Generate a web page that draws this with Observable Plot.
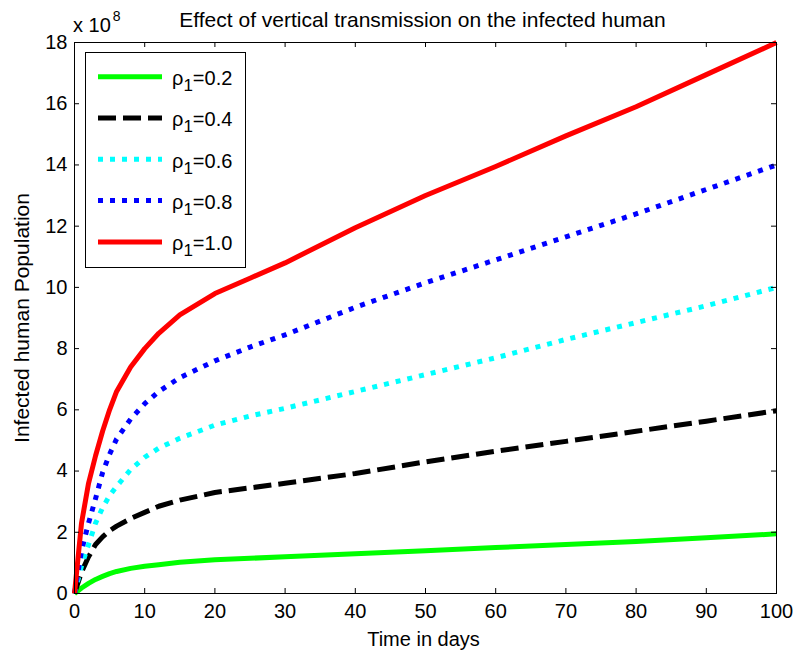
<!DOCTYPE html>
<html><head><meta charset="utf-8">
<script src="https://cdn.jsdelivr.net/npm/d3@7"></script>
<script src="https://cdn.jsdelivr.net/npm/@observablehq/plot@0.6"></script>
<style>
body{margin:0;background:#fff}
#chart{position:relative;width:794px;height:653px}
</style>
</head><body><div id="chart"></div>
<script>
// Time in days
const days = [0,1,2,3,4,5,6,8,10,12,15,20,25,30,40,50,60,70,80,90,100];
// Infected human population (x 10^8)
const rho02 = [0,0.18,0.33,0.46,0.56,0.65,0.72,0.82,0.89,0.94,1.02,1.10,1.15,1.20,1.30,1.40,1.50,1.60,1.70,1.82,1.95];
const rho04 = [0,0.70,1.20,1.60,1.85,2.05,2.20,2.45,2.65,2.85,3.05,3.30,3.45,3.60,3.92,4.30,4.65,4.97,5.30,5.63,5.97];
const rho06 = [0,0.90,1.60,2.30,2.80,3.20,3.50,4.05,4.45,4.75,5.07,5.50,5.80,6.05,6.60,7.15,7.70,8.30,8.85,9.40,10.0];
const rho08 = [0,1.40,2.30,3.10,3.95,4.55,5.05,5.70,6.20,6.60,7.05,7.60,8.05,8.45,9.35,10.15,10.90,11.65,12.40,13.20,14.0];
const rho10 = [0,2.30,3.60,4.50,5.30,6.00,6.60,7.40,8.00,8.50,9.10,9.80,10.30,10.80,11.95,13.00,13.95,14.95,15.90,16.95,18.0];

const rhoValues = ["0.2","0.4","0.6","0.8","1.0"];
const seriesData = [rho02, rho04, rho06, rho08, rho10];
const colors = ["#00ff00","#000000","#00ffff","#0000ff","#ff0000"];
const dashes = [null,"18,7","5,7","5,7",null];

const xTicks = [0,10,20,30,40,50,60,70,80,90,100];
const yTicks = [0,2,4,6,8,10,12,14,16,18];

const titleText = "Effect of vertical transmission on the infected human";
const xLabel = "Time in days";
const yLabel = "Infected human Population";

const W = 794, H = 653, mL = 74, mR = 18, mT = 42, mB = 60;
const fw = W - mL - mR, fh = H - mT - mB, tk = 5;
const font = "'Liberation Sans', Arial, Helvetica, sans-serif";

const lineMarks = seriesData.map((vals, i) =>
  Plot.line(days.map((d, j) => ({t: d, v: vals[j]})), {
    x: "t", y: "v", stroke: colors[i], strokeWidth: 5,
    strokeDasharray: dashes[i] || undefined,
    strokeLinecap: "butt", strokeLinejoin: "round"
  })
);

const plot = Plot.plot({
  width: W, height: H,
  marginLeft: mL, marginRight: mR, marginTop: mT, marginBottom: mB,
  style: {fontFamily: font, fontSize: "20px", background: "white", color: "black"},
  x: {domain: [0, 100], ticks: xTicks, tickSize: 0, tickPadding: 10, label: null},
  y: {domain: [0, 18], ticks: yTicks, tickSize: 0, tickPadding: 7, label: null},
  marks: [
    ...lineMarks,
    Plot.frame({stroke: "black", strokeWidth: 1}),
    Plot.ruleX(xTicks, {x: d => d, insetTop: fh - tk, stroke: "black"}),
    Plot.ruleX(xTicks, {x: d => d, insetBottom: fh - tk, stroke: "black"}),
    Plot.ruleY(yTicks, {y: d => d, insetRight: fw - tk, stroke: "black"}),
    Plot.ruleY(yTicks, {y: d => d, insetLeft: fw - tk, stroke: "black"}),
    Plot.text([titleText], {frameAnchor: "top", dy: -22, dx: -3, fontSize: 21, textAnchor: "middle", lineAnchor: "middle", fill: "black"}),
    Plot.text([xLabel], {frameAnchor: "bottom", dy: 46, dx: -2, fontSize: 20, textAnchor: "middle", lineAnchor: "middle", fill: "black"}),
    Plot.text([yLabel], {frameAnchor: "left", dx: -52, dy: 0, rotate: -90, fontSize: 21, textAnchor: "middle", lineAnchor: "middle", fill: "black"})
  ]
});

document.getElementById("chart").appendChild(plot);

const svg = d3.select(plot);
// exponent label
const ex = svg.append("text").attr("x", 73).attr("y", 32).attr("text-anchor", "start")
  .attr("font-family", font).attr("font-size", 20).attr("fill", "black");
ex.append("tspan").text("x 10");
ex.append("tspan").attr("font-size", 14).attr("dy", -11).attr("dx", 2).text("8");

// legend
const lg = svg.append("g").attr("text-anchor", "start");
lg.append("rect").attr("x", 85.5).attr("y", 52.5).attr("width", 160).attr("height", 215)
  .attr("fill", "white").attr("stroke", "black").attr("stroke-width", 1);
rhoValues.forEach((r, i) => {
  const cy = 76.7 + i * 41.3;
  const ln = lg.append("line").attr("x1", 98).attr("x2", 162).attr("y1", cy).attr("y2", cy)
    .attr("stroke", colors[i]).attr("stroke-width", 5);
  if (dashes[i]) ln.attr("stroke-dasharray", dashes[i]);
  const t = lg.append("text").attr("x", 172).attr("y", cy + 8.3).attr("text-anchor", "start")
    .attr("font-family", font).attr("font-size", 20).attr("fill", "black");
  t.append("tspan").text("ρ");
  t.append("tspan").attr("font-size", 17).attr("dy", 6).text("1");
  t.append("tspan").attr("dy", -6).text("=" + r);
});
</script>
</body></html>
